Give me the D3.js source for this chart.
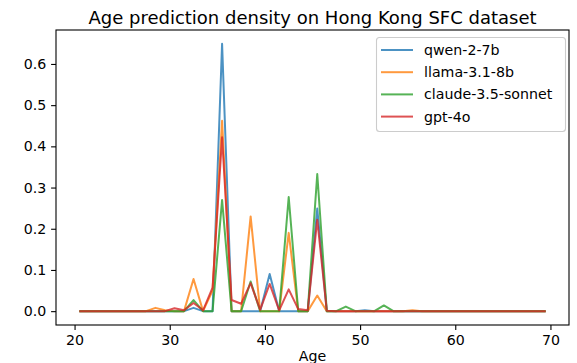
<!DOCTYPE html>
<html>
<head>
<meta charset="utf-8">
<script src="https://cdn.jsdelivr.net/npm/d3@7"></script>
<style>
  body { margin: 0; background: #fff; }
  text { font-family: "DejaVu Sans", sans-serif; fill: #000; }
</style>
</head>
<body>
<svg id="chart" width="577" height="363"></svg>
<script>
// bin centres (ages) and densities per model
const ages = d3.range(20.5, 70, 1);
const qwen = [0,0,0,0,0,0,0,0,0,0, 0,0,0.008,0,0,0.649,0,0,0,0, 0.090,0,0,0,0,0.249,0,0,0,0, 0.002,0,0,0,0,0,0,0,0,0, 0,0,0,0,0,0,0,0,0,0];
const llama = [0,0,0,0,0,0,0,0,0.008,0.002, 0,0,0.078,0,0.05,0.462,0,0,0.230,0, 0,0,0.190,0,0,0.038,0,0,0,0, 0,0,0,0,0,0.002,0,0,0,0, 0,0,0,0,0,0,0,0,0,0];
const claude = [0,0,0,0,0,0,0,0,0,0, 0,0,0.027,0,0,0.270,0,0,0.072,0, 0,0,0.277,0,0,0.333,0,0,0.011,0, 0,0,0.014,0,0,0,0,0,0,0, 0,0,0,0,0,0,0,0,0,0];
const gpt = [0,0,0,0,0,0,0,0,0,0, 0.007,0.002,0.020,0.002,0.057,0.422,0.027,0.018,0.068,0.003, 0.066,0.002,0.053,0.005,0.002,0.222,0.001,0,0,0, 0,0,0,0,0,0,0,0,0,0, 0,0,0,0,0,0,0,0,0,0];
const seriesNames = ['qwen-2-7b', 'llama-3.1-8b', 'claude-3.5-sonnet', 'gpt-4o'];
const seriesValues = [qwen, llama, claude, gpt];
const colors = ['#1f77b4', '#ff7f0e', '#2ca02c', '#d62728'];
const xTicks = [20, 30, 40, 50, 60, 70];
const yTicks = [0, 0.1, 0.2, 0.3, 0.4, 0.5, 0.6];

const svg = d3.select('#chart');
const mLeft = 56, mRight = 569, mTop = 30, mBottom = 325;

const x = d3.scaleLinear().domain([18.05, 71.95]).range([mLeft, mRight]);
const y = d3.scaleLinear().domain([-0.0336, 0.6824]).range([mBottom, mTop]);

// lines
const line = d3.line().x((d, i) => x(ages[i])).y(d => y(d));
seriesValues.forEach((vals, k) => {
  svg.append('path')
    .datum(vals)
    .attr('d', line)
    .attr('fill', 'none')
    .attr('stroke', colors[k])
    .attr('stroke-opacity', 0.8)
    .attr('stroke-width', 2)
    .attr('stroke-linejoin', 'round');
});

// axes
const xAxis = d3.axisBottom(x).tickValues(xTicks).tickFormat(d3.format('d')).tickSize(4.9).tickPadding(4.9);
const gx = svg.append('g').attr('transform', `translate(0,${mBottom})`).call(xAxis);
const yAxis = d3.axisLeft(y).tickValues(yTicks).tickFormat(d3.format('.1f')).tickSize(4.9).tickPadding(4.9);
const gy = svg.append('g').attr('transform', `translate(${mLeft},0)`).call(yAxis);
[gx, gy].forEach(g => {
  g.select('.domain').remove();
  g.selectAll('line').attr('stroke', '#000').attr('stroke-width', 1.1);
  g.selectAll('text').attr('font-size', 14.2).attr('font-family', 'DejaVu Sans');
});

// frame
svg.append('rect')
  .attr('x', mLeft).attr('y', mTop)
  .attr('width', mRight - mLeft).attr('height', mBottom - mTop)
  .attr('fill', 'none').attr('stroke', '#000').attr('stroke-width', 1.1);

// title and label
svg.append('text').attr('x', (mLeft + mRight) / 2).attr('y', 24)
  .attr('text-anchor', 'middle').attr('font-size', 18)
  .text('Age prediction density on Hong Kong SFC dataset');
svg.append('text').attr('x', (mLeft + mRight) / 2).attr('y', 361)
  .attr('text-anchor', 'middle').attr('font-size', 14.2)
  .text('Age');

// legend
const lg = svg.append('g');
lg.append('rect').attr('x', 376.5).attr('y', 37.5).attr('width', 189).attr('height', 94)
  .attr('rx', 3).attr('fill', '#fff').attr('fill-opacity', 0.8)
  .attr('stroke', '#ccc').attr('stroke-width', 1.1);
seriesNames.forEach((name, k) => {
  const yy = 50 + k * 22.2;
  lg.append('line').attr('x1', 381).attr('x2', 413).attr('y1', yy).attr('y2', yy)
    .attr('stroke', colors[k]).attr('stroke-opacity', 0.8).attr('stroke-width', 2);
  lg.append('text').attr('x', 424).attr('y', yy).attr('dy', '0.35em')
    .attr('font-size', 14.2).text(name);
});
</script>
</body>
</html>
